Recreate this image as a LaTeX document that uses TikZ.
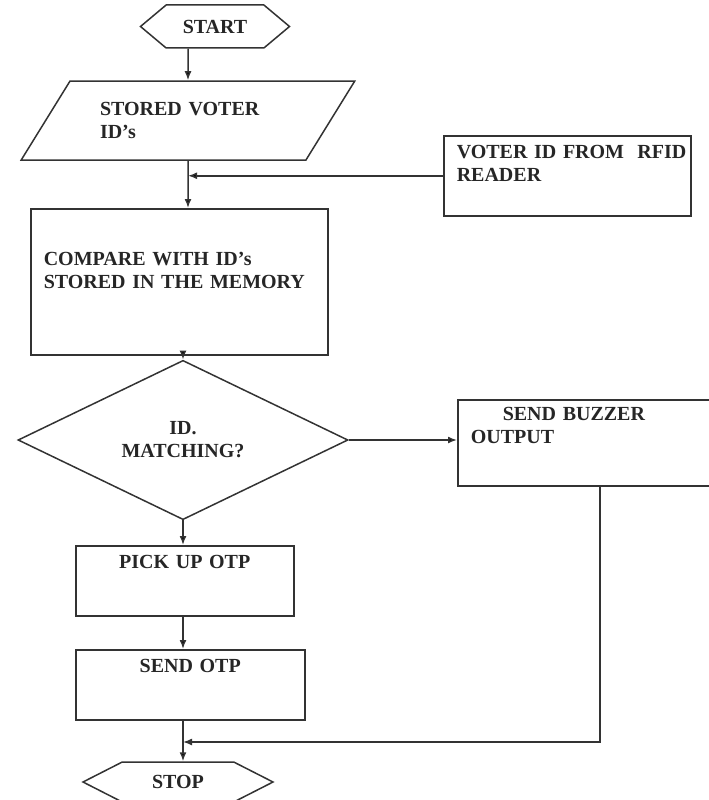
\documentclass[tikz,border=0pt]{standalone}
\usepackage{fontspec}
\setmainfont{Liberation Serif}
\usetikzlibrary{shapes.geometric,shapes.symbols,arrows.meta}

\begin{document}
\begin{tikzpicture}[x=1pt,y=-1pt,line width=1.5pt,
	trait/.style={draw=black!80,line width=1.5pt},
	fleche/.style={-{Latex[length=9pt,width=7pt]}},
	texte/.style={text=black!85,font=\bfseries\fontsize{20}{23}\selectfont},
	boite/.style={trait,texte,rectangle,anchor=north west,inner xsep=13pt,inner ysep=9pt,text height=14pt},
	borne/.style={trait,texte,signal,signal to=west and east,inner sep=0pt},
	]
		\useasboundingbox (0,0) rectangle (709,800);
		%\node (nom node) at(x,y) [options] {affichage} ;
		\node (node start) at(215,26.5) [borne,minimum width=149pt,minimum height=43pt,signal pointer angle=80] {START} ;
		\node (node stored) at(188,120.5) [trait,texte,trapezium,trapezium left angle=45,trapezium right angle=135,trapezium stretches=true,minimum width=334pt,minimum height=79pt,text width=176pt,align=left,inner sep=0pt] {STORED VOTER\\ID's} ;
		\node (node rfid) at(443,135) [boite,text width=221pt,text depth=48pt,align=left] {VOTER~ID~FROM~~RFID\\READER} ;
		\node (node compare) at(30,208) [boite,text width=271pt,text height=48pt,text depth=80pt,align=left] {COMPARE WITH ID's\\STORED IN THE MEMORY} ;
		\node (node match) at(183,440) [trait,texte,diamond,minimum width=330pt,minimum height=120pt,inner sep=0pt,align=center] {ID.\\MATCHING?} ;
		\node (node buzzer) at(457,399) [boite,text width=234pt,text height=12pt,text depth=56pt,align=left] {\hspace{32pt}SEND BUZZER\\OUTPUT} ;
		\node (node pickup) at(75,545) [boite,text width=192pt,text depth=38pt,align=center] {PICK UP OTP} ;
		\node (node sendotp) at(75,649) [boite,text width=203pt,text depth=38pt,align=center] {SEND OTP} ;
		\node (node stop) at(178,782) [borne,minimum width=190pt,minimum height=40pt,signal pointer angle=54] {STOP} ;
		\coordinate (retour) at(183,742) ;

		%\path (nom node A) edge[options] (nom node B);
		\path[trait]
		(node start.south -| node stored) edge[fleche] (node stored.north)
		(node stored) edge[fleche] (node stored |- node compare.north)
		(node rfid) edge[fleche] (node rfid -| node stored)
		(node compare.south -| retour) edge[fleche] (node match.north)
		(node match) edge[fleche] (node match -| node buzzer.west)
		(node match) edge[fleche] (retour |- node pickup.north)
		(node pickup.south -| retour) edge[fleche] (retour |- node sendotp.north)
		(node sendotp.south -| retour) edge[fleche] (retour |- node stop.north)
		;
		\draw[trait,fleche] ([xshift=12pt]node buzzer.south) |- (retour) ;
\end{tikzpicture}
\end{document}
